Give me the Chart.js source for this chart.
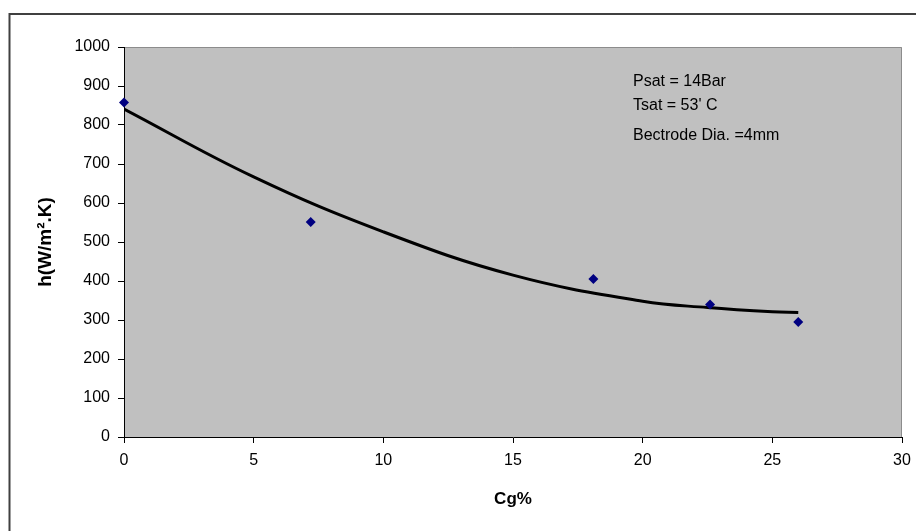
<!DOCTYPE html>
<html>
<head>
<meta charset="utf-8">
<script src="https://cdn.jsdelivr.net/npm/chart.js@4"></script>
<style>
  html, body { margin: 0; padding: 0; background: #ffffff; }
  #wrap { width: 916px; height: 531px; position: relative; }
</style>
</head>
<body>
<div id="wrap"><canvas id="chart" width="916" height="531"></canvas></div>
<script>
// measured points
const cgPercent = [0, 7.2, 18.1, 22.6, 26]
const hValues = [858, 551, 405, 340, 295]

// trend line
const trendX = [0, 5, 10, 15, 20, 22.5, 25, 26]
const trendY = [841, 667, 526, 415, 348, 332, 321, 319]

const noteLines = ['Psat = 14Bar', "Tsat = 53' C", 'Bectrode Dia. =4mm']

const fontFamily = "'Liberation Sans', Arial, sans-serif"

const frame = {
    id: 'frame',
    beforeDraw(chart) {
        const { ctx, chartArea: a } = chart
        ctx.save()
        ctx.fillStyle = '#c0c0c0'
        ctx.fillRect(a.left, a.top, a.right - a.left, a.bottom - a.top)
        ctx.strokeStyle = '#8c8c8c'
        ctx.lineWidth = 1
        ctx.beginPath()
        ctx.moveTo(a.left, a.top + 0.5)
        ctx.lineTo(a.right - 0.5, a.top + 0.5)
        ctx.lineTo(a.right - 0.5, a.bottom)
        ctx.stroke()
        // outer border of the figure
        ctx.strokeStyle = '#404040'
        ctx.lineWidth = 2
        ctx.beginPath()
        ctx.moveTo(9.5, 531)
        ctx.lineTo(9.5, 14)
        ctx.lineTo(916, 14)
        ctx.stroke()
        ctx.restore()
    },
    afterDraw(chart) {
        const { ctx } = chart
        ctx.save()
        ctx.fillStyle = '#000'
        ctx.font = '16px ' + fontFamily
        ctx.textBaseline = 'middle'
        const ys = [82, 106, 136]
        noteLines.forEach((t, i) => ctx.fillText(t, 633, ys[i]))
        ctx.restore()
    }
}

new Chart(document.getElementById('chart'), {
    type: 'scatter',
    data: {
        datasets: [
            {
                label: 'h',
                data: cgPercent.map((x, i) => ({ x: x, y: hValues[i] })),
                pointStyle: 'rectRot',
                pointRadius: 5,
                backgroundColor: '#000080',
                borderColor: '#000080',
                borderWidth: 0,
                clip: false,
                order: 0
            },
            {
                label: 'trend',
                data: trendX.map((x, i) => ({ x: x, y: trendY[i] })),
                showLine: true,
                pointRadius: 0,
                borderColor: '#000',
                borderWidth: 3,
                tension: 0.4,
                order: 1
            }
        ]
    },
    options: {
        responsive: false,
        animation: false,
        layout: { padding: { left: 0, right: 14, top: 47, bottom: 0 } },
        plugins: { legend: { display: false }, tooltip: { enabled: false } },
        scales: {
            x: {
                type: 'linear',
                min: 0,
                max: 30,
                ticks: { stepSize: 5, color: '#000', padding: 8, font: { family: fontFamily, size: 16 } },
                grid: { drawOnChartArea: false, drawTicks: true, tickLength: 6, color: '#000' },
                border: { color: '#000', width: 1 },
                title: { display: true, text: 'Cg%', color: '#000', padding: { top: 0, bottom: 21 }, font: { family: fontFamily, size: 17, weight: 'bold' } },
                afterFit(s) { s.height = 94; s.paddingLeft = 0; s.paddingRight = 0 }
            },
            y: {
                min: 0,
                max: 1000,
                ticks: { stepSize: 100, color: '#000', padding: 8, font: { family: fontFamily, size: 16 }, callback: v => String(v) },
                grid: { drawOnChartArea: false, drawTicks: true, tickLength: 6, color: '#000' },
                border: { color: '#000', width: 1 },
                title: { display: true, text: 'h(W/m².K)', color: '#000', padding: { top: 34, bottom: 0 }, font: { family: fontFamily, size: 19, weight: 'bold' } },
                afterFit(s) { s.width = 124 }
            }
        }
    },
    plugins: [frame]
})
</script>
</body>
</html>
